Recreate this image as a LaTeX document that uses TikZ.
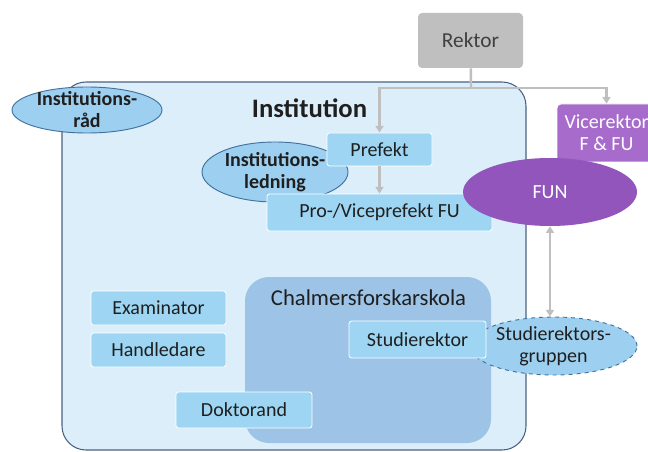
\documentclass[tikz,border=0pt]{standalone}
\usepackage{fontspec}
\setmainfont{Carlito}
\usetikzlibrary{shapes.geometric, arrows.meta, positioning}
\definecolor{instbg}{HTML}{DDEEFB}
\definecolor{instline}{HTML}{4A6282}
\definecolor{boxblue}{HTML}{9DD5F3}
\definecolor{ovalblue}{HTML}{9DD0F0}
\definecolor{skolablue}{HTML}{9DC3E6}
\definecolor{ovalline}{HTML}{41719C}
\definecolor{rektorgray}{HTML}{BFBFBF}
\definecolor{linegray}{HTML}{BFBFBF}
\definecolor{vicepurple}{HTML}{A66BCB}
\definecolor{funpurple}{HTML}{9155BC}
\tikzset{
>={Triangle[width=6pt,length=5pt]},
every node/.append style={font=\fontsize{15}{16.5}\selectfont, text=black!88},
unitbox/.style={rectangle, rounded corners=2pt, fill=boxblue, draw=white, line width=0.6pt, inner sep=0pt},
unitoval/.style={ellipse, fill=ovalblue, draw=ovalline, line width=0.7pt, inner sep=-4pt, align=center},
link/.style={draw=linegray, line width=1.8pt},
}

\begin{document}
\begin{tikzpicture}[x=0.75pt, y=-0.75pt]
            \useasboundingbox (0,0) rectangle (648,452);

            % Institution
            \node[fill=instbg, draw=instline, line width=0.8pt, rounded corners=18pt,
                  minimum width=348pt, minimum height=276pt] (inst) at (294,266) {};
            \node[unitoval, font=\fontsize{15}{16.5}\selectfont\bfseries,
                  minimum width=112.5pt, minimum height=34.5pt] (raad) at (87,110) {Institutions-\\råd};
            \node[anchor=base, font=\fontsize{20}{24}\selectfont\bfseries] (insttitle) at (309.5,118) {Institution};

            % Chalmersforskarskola
            \node[fill=skolablue, rounded corners=18pt, minimum width=184.5pt, minimum height=124.5pt] (skola) at (368,360) {};
            \node[anchor=base, font=\fontsize{17}{20}\selectfont] (skolatitle) at (368.5,305) {Chalmersforskarskola};

            % Ledning
            \node[unitoval, font=\fontsize{15}{16.5}\selectfont\bfseries,
                  minimum width=109.5pt, minimum height=45pt] (ledning) at (275,172) {Institutions-\\ledning};
            \node[unitbox, minimum width=78.75pt, minimum height=24.75pt] (prefekt) at (379.5,149.5) {Prefekt};
            \node[unitbox, minimum width=168.75pt, minimum height=27.75pt] (pro) at (379.5,212.5) {Pro-/Viceprefekt FU};

            % Roller
            \node[unitbox, minimum width=101.25pt, minimum height=25.5pt] (examinator) at (158.5,308) {Examinator};
            \node[unitbox, minimum width=101.25pt, minimum height=25.5pt] (handledare) at (158.5,350) {Handledare};
            \node[unitbox, minimum width=102pt, minimum height=27pt] (doktorand) at (244,410) {Doktorand};
            \node[unitoval, dashed, align=center, minimum width=125.25pt, minimum height=43.5pt] (gruppen) at (553.5,346) {Studierektors-\\gruppen};
            \node[unitbox, minimum width=102.75pt, minimum height=27.75pt] (studierektor) at (417.5,339.5) {Studierektor};

            % Ledning ovanfor
            \node[rectangle, rounded corners=3pt, fill=rektorgray, minimum width=78.75pt, minimum height=41.25pt,
                  font=\fontsize{16}{19}\selectfont, text=black!75] (rektor) at (470.5,40.5) {Rektor};
            \node[rectangle, rounded corners=3pt, fill=vicepurple, draw=white, line width=0.6pt, align=center,
                  minimum width=74.25pt, minimum height=43.5pt, text=white] (vicerektor) at (606.5,133) {Vicerektor\\F \& FU};
            \node[ellipse, fill=funpurple, minimum width=130.5pt, minimum height=51pt, text=white] (fun) at (550,192) {FUN};

            % Pilar
            \coordinate (split) at (471,88);
            \draw[link] (rektor) -- (split);
            \draw[link, ->] (split) -| (prefekt);
            \draw[link, ->] (split) -| (vicerektor);
            \draw[link, ->] (prefekt) -- (pro);
            \draw[link, <->] (fun.south) -- (fun.south |- gruppen.north);

\end{tikzpicture}
\end{document}
